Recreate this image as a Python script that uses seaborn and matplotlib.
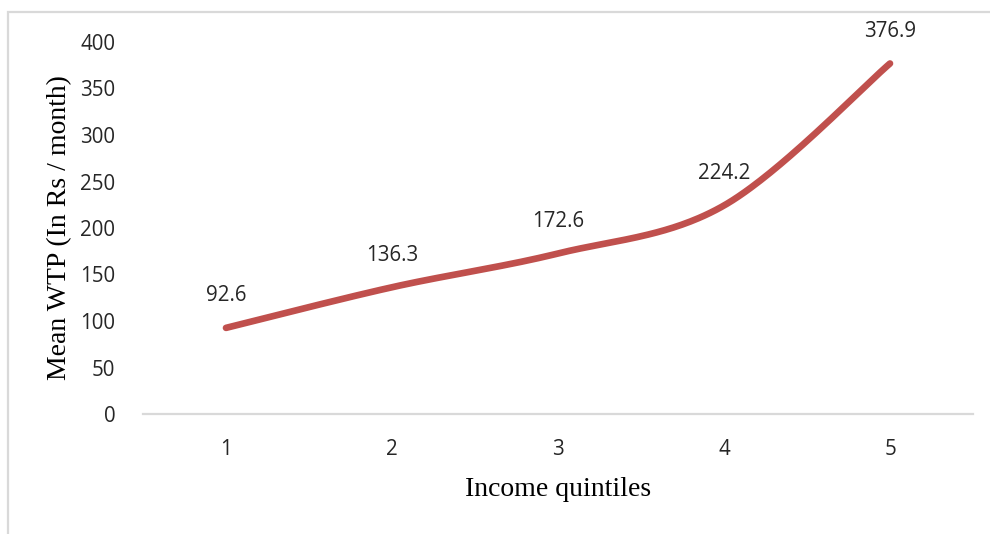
import numpy as np
import pandas as pd
import matplotlib
matplotlib.use("Agg")
import matplotlib.pyplot as plt
from matplotlib.patches import Rectangle
import seaborn as sns

# Mean willingness to pay by income quintile
quintiles = [1, 2, 3, 4, 5]
mean_wtp = [92.6, 136.3, 172.6, 224.2, 376.9]
y_ticks = [0, 50, 100, 150, 200, 250, 300, 350, 400]

LINE_COLOR = "#C0504D"
AXIS_GRAY = "#D9D9D9"
TEXT_COLOR = "#262626"


def smooth_curve(xs, ys, steps=60):
    """Cubic Bezier segments through the points (spreadsheet-style smoothing)."""
    pts = np.column_stack([xs, ys]).astype(float)
    ext = np.vstack([pts[0], pts, pts[-1]])
    out = []
    t = np.linspace(0, 1, steps)[:, None]
    for i in range(len(pts) - 1):
        p0 = ext[i + 1]
        p3 = ext[i + 2]
        c1 = p0 + (ext[i + 2] - ext[i]) / 6.0
        c2 = p3 - (ext[i + 3] - ext[i + 1]) / 6.0
        seg = ((1 - t) ** 3) * p0 + 3 * ((1 - t) ** 2) * t * c1 \
            + 3 * (1 - t) * t ** 2 * c2 + t ** 3 * p3
        out.append(seg if i == 0 else seg[1:])
    return np.vstack(out)


sns.set_theme(style="white")
plt.rcParams["font.family"] = ["Open Sans", "DejaVu Sans"]

fig = plt.figure(figsize=(9.9, 5.34), dpi=100)
ax = fig.add_axes([143 / 990, 1 - 414 / 534, 830 / 990, 372 / 534])

curve = smooth_curve(quintiles, mean_wtp)
df_curve = pd.DataFrame({"quintile": curve[:, 0], "wtp": curve[:, 1]})
sns.lineplot(data=df_curve, x="quintile", y="wtp", sort=False, ax=ax,
             color=LINE_COLOR, linewidth=4.8, solid_capstyle="round")

for q, v in zip(quintiles, mean_wtp):
    ax.annotate(f"{v:.1f}", (q, v), xytext=(0, 23), textcoords="offset points",
                ha="center", va="center", fontsize=14.8, color=TEXT_COLOR)

ax.set_xlim(0.5, 5.5)
ax.set_ylim(0, 400)
ax.set_xticks(quintiles)
ax.set_xticklabels([str(q) for q in quintiles])
ax.set_yticks(y_ticks)
ax.set_yticklabels([str(v) for v in y_ticks])
ax.tick_params(axis="both", length=0, labelsize=14.8, colors=TEXT_COLOR)
ax.tick_params(axis="x", pad=18)
ax.tick_params(axis="y", pad=20)

for side in ["top", "right", "left"]:
    ax.spines[side].set_visible(False)
ax.spines["bottom"].set_color(AXIS_GRAY)
ax.spines["bottom"].set_linewidth(1.6)
ax.grid(False)

ax.set_xlabel("Income quintiles", family=["Liberation Serif"], fontsize=20,
              color="black", labelpad=12)
ax.set_ylabel("Mean WTP (In Rs / month)", family=["Liberation Serif"],
              fontsize=20, color="black", labelpad=6)

# chart frame
fig.patches.append(Rectangle((8 / 990, -0.1), 1.2, 1 - 12 / 534 + 0.1,
                             transform=fig.transFigure, fill=False,
                             edgecolor=AXIS_GRAY, linewidth=1.6))

fig.savefig("out.png", dpi=100, facecolor="white")
